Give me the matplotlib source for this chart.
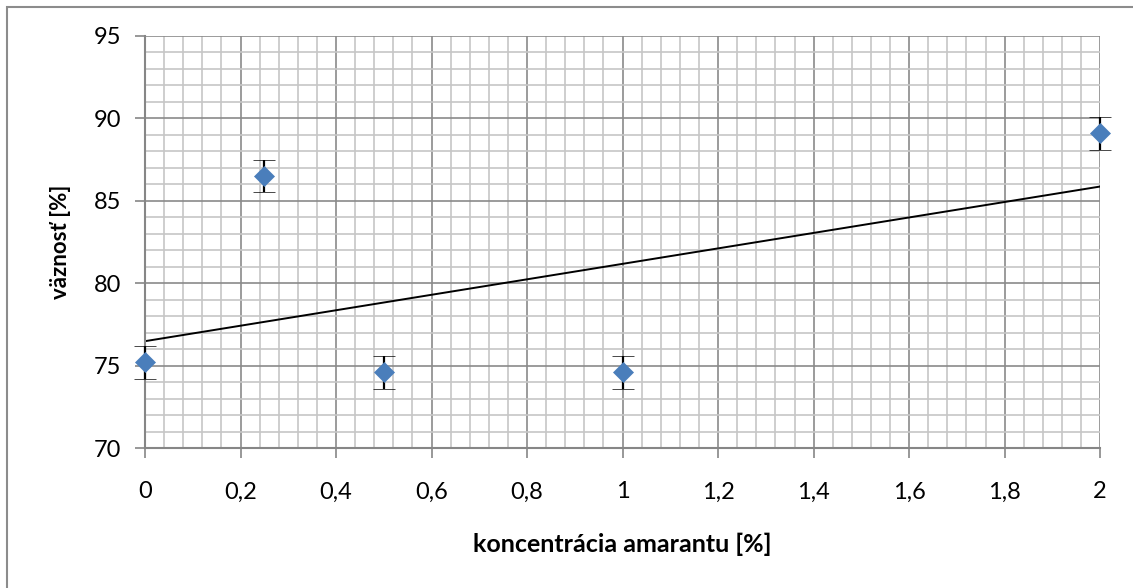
import numpy as np
import matplotlib
matplotlib.use("Agg")
import matplotlib.pyplot as plt
from matplotlib.patches import Rectangle
from matplotlib.ticker import MultipleLocator, FuncFormatter

# amaranth concentration [%] vs. water absorption [%]
concentration = [0.0, 0.25, 0.5, 1.0, 2.0]
absorption = [75.2, 86.5, 74.6, 74.6, 89.1]
abs_err = [1.0, 1.0, 1.0, 1.0, 1.0]

x_label = "koncentrácia amarantu [%]"
y_label = "väznosť [%]"

plt.rcParams["font.family"] = ["Lato", "DejaVu Sans"]

fig = plt.figure(figsize=(11.33, 5.88), dpi=100)
ax = fig.add_axes([0.128, 0.238, 0.843, 0.701])

# chart frame (left/top edges only, the rest falls off the canvas)
fig.patches.append(Rectangle((7 / 1133, -0.05), 1.2, 1 - 7 / 588 + 0.05,
                             transform=fig.transFigure, fill=False,
                             edgecolor="#8c8c8c", linewidth=1.5))

ax.set_xlim(0, 2)
ax.set_ylim(70, 95)
ax.xaxis.set_major_locator(MultipleLocator(0.2))
ax.xaxis.set_minor_locator(MultipleLocator(0.04))
ax.yaxis.set_major_locator(MultipleLocator(5))
ax.yaxis.set_minor_locator(MultipleLocator(1))

ax.grid(which="minor", color="#c6c6c6", linewidth=1.2, zorder=0)
ax.grid(which="major", color="#8a8a8a", linewidth=1.2, zorder=0)
ax.set_axisbelow(True)

for side in ("top", "right"):
    ax.spines[side].set_visible(False)
for side in ("left", "bottom"):
    ax.spines[side].set_color("#868686")
    ax.spines[side].set_linewidth(1.5)

ax.xaxis.set_major_formatter(FuncFormatter(lambda v, _: f"{v:g}".replace(".", ",")))
ax.tick_params(which="major", length=7, width=1.2, color="#868686",
               labelsize=17)
ax.tick_params(axis="x", which="major", pad=17)
ax.tick_params(axis="y", which="major", pad=10)
ax.tick_params(which="minor", length=0)

# linear trend
k, q = np.polyfit(concentration, absorption, 1)
xs = np.array([0.0, 2.0])
ax.plot(xs, k * xs + q, color="black", linewidth=1.4, zorder=2)

ax.errorbar(concentration, absorption, yerr=abs_err, fmt="D",
            color="#4a7ebb", markersize=10, markeredgecolor="#4a7ebb",
            markeredgewidth=0.5,
            ecolor="black", elinewidth=1.6, capsize=8, capthick=2.2,
            zorder=3, clip_on=False)

ax.set_xlabel(x_label, fontsize=18, fontweight="bold")
ax.xaxis.set_label_coords(0.5, -0.205)
ax.set_ylabel(y_label, fontsize=16, fontweight="bold")
ax.yaxis.set_label_coords(-0.077, 0.5)

fig.savefig("out.png", dpi=100)
